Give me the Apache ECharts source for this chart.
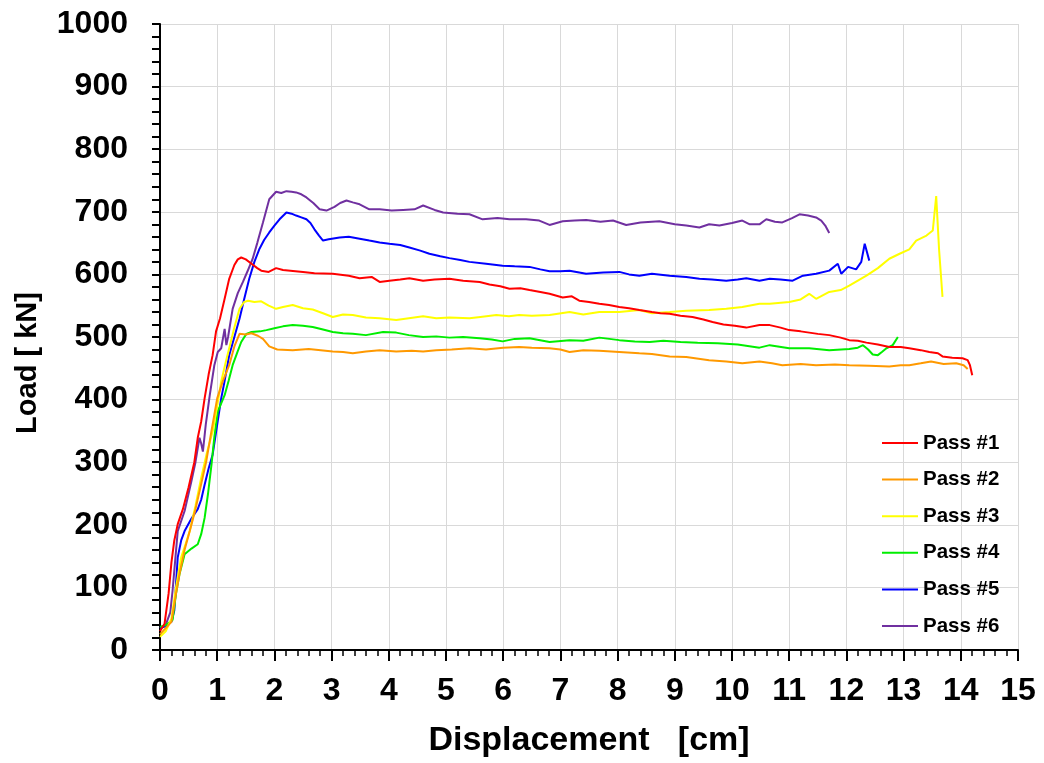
<!DOCTYPE html>
<html><head><meta charset="utf-8">
<script src="https://cdn.jsdelivr.net/npm/echarts@6/dist/echarts.min.js"></script>
<style>html,body{margin:0;padding:0;background:#fff}#c{width:1044px;height:763px}</style>
</head><body><div id="c"></div>
<script>
const seriesNames = ['Pass #1','Pass #2','Pass #3','Pass #4','Pass #5','Pass #6'];
const seriesColors = ['#ff0000','#ff9900','#ffff00','#00ee00','#0000ff','#7030a0'];

const pass1X = [0,0.08,0.15,0.2,0.25,0.31,0.4,0.5,0.6,0.66,0.72,0.78,0.85,0.92,0.98,1.05,1.13,1.21,1.3,1.36,1.42,1.5,1.6,1.7,1.77,1.9,2.03,2.15,2.28,2.5,2.7,3.02,3.3,3.49,3.7,3.84,4.01,4.2,4.36,4.6,4.8,5.06,5.3,5.59,5.76,5.95,6.11,6.3,6.46,6.65,6.81,7.04,7.2,7.33,7.5,7.68,7.85,8.03,8.2,8.38,8.6,8.75,8.91,9.1,9.31,9.5,9.66,9.85,10.05,10.25,10.48,10.66,10.85,11.0,11.2,11.35,11.5,11.7,11.9,12.05,12.2,12.35,12.55,12.75,12.95,13.1,13.3,13.45,13.6,13.68,13.85,14.03,14.12,14.16,14.2];
const pass1Y = [30,42,90,140,175,201,225,260,300,339,365,402,440,471,509,530,561,593,615,624,627,624,617,610,606,604,610,607,606,604,602,601,598,594,596,588,590,592,594,590,592,593,590,588,584,581,577,578,575,572,569,563,565,558,556,553,551,548,546,543,540,538,537,534,532,528,524,520,518,515,519,519,515,511,509,507,505,503,499,495,494,491,488,484,484,482,479,476,474,469,467,466,463,455,439];

const pass2X = [0,0.1,0.2,0.28,0.34,0.43,0.52,0.62,0.72,0.81,0.9,1.0,1.1,1.21,1.3,1.39,1.5,1.6,1.71,1.8,1.91,2.05,2.32,2.6,3.02,3.2,3.37,3.6,3.84,4.13,4.4,4.6,4.83,5.1,5.41,5.7,6.0,6.28,6.5,6.81,7.0,7.16,7.4,7.68,8.03,8.38,8.6,8.91,9.2,9.6,9.9,10.18,10.48,10.7,10.88,11.2,11.47,11.8,12.05,12.4,12.75,12.95,13.1,13.3,13.48,13.7,13.92,14.05,14.12];
const pass2Y = [25,35,45,90,121,160,190,225,265,302,350,402,430,455,485,505,504,506,502,497,485,480,479,481,477,476,474,477,479,477,478,477,479,480,482,480,483,484,483,482,480,476,479,478,476,474,473,469,468,463,461,458,461,458,455,457,455,456,455,454,453,455,455,458,461,457,458,455,449];

const pass3X = [0,0.1,0.2,0.28,0.37,0.45,0.52,0.62,0.72,0.82,0.92,1.0,1.07,1.15,1.21,1.3,1.39,1.47,1.54,1.65,1.77,1.9,2.03,2.15,2.32,2.5,2.67,2.85,3.02,3.2,3.37,3.6,3.84,4.13,4.35,4.6,4.83,5.06,5.41,5.6,5.88,6.1,6.28,6.5,6.81,7.16,7.4,7.68,8.03,8.38,8.6,8.91,9.2,9.6,9.9,10.18,10.48,10.66,11.0,11.2,11.35,11.47,11.7,11.9,12.05,12.2,12.35,12.55,12.75,12.93,13.1,13.22,13.4,13.51,13.57,13.62,13.68];
const pass3Y = [21,30,50,100,148,170,190,230,275,315,349,390,429,460,482,515,545,556,558,556,557,550,545,548,551,546,544,538,532,536,535,531,530,527,530,533,530,531,530,532,535,533,535,534,535,540,536,540,540,543,538,540,542,543,545,548,553,553,556,560,569,561,572,575,582,590,598,610,625,633,640,654,662,670,725,640,564];

const pass4X = [0,0.1,0.22,0.28,0.34,0.43,0.55,0.66,0.72,0.78,0.84,0.9,0.95,1.01,1.13,1.2,1.27,1.35,1.42,1.51,1.6,1.75,1.86,2.0,2.15,2.32,2.5,2.67,2.85,3.02,3.2,3.37,3.6,3.9,4.13,4.35,4.6,4.83,5.06,5.3,5.59,5.8,5.99,6.2,6.46,6.81,7.16,7.4,7.68,8.03,8.3,8.56,8.8,9.1,9.4,9.75,10.1,10.48,10.66,11.0,11.35,11.7,12.05,12.2,12.29,12.38,12.46,12.55,12.62,12.7,12.81,12.9];
const pass4Y = [37,40,48,90,121,153,162,169,185,211,250,296,340,381,407,430,455,475,492,505,508,509,511,514,517,519,518,516,512,508,506,505,503,508,507,503,500,501,499,500,498,496,493,497,498,492,495,494,499,495,493,492,494,492,491,490,488,483,487,482,482,479,481,483,487,480,472,471,476,482,487,500];

const pass5X = [0,0.1,0.2,0.25,0.31,0.37,0.43,0.55,0.66,0.72,0.78,0.85,0.92,1.0,1.07,1.13,1.21,1.3,1.39,1.47,1.56,1.65,1.74,1.82,1.91,2.0,2.09,2.21,2.3,2.38,2.47,2.56,2.63,2.7,2.78,2.85,2.95,3.14,3.3,3.49,3.66,3.84,4.01,4.2,4.36,4.55,4.71,4.9,5.06,5.25,5.41,5.7,5.99,6.2,6.46,6.65,6.81,7.0,7.16,7.45,7.75,8.03,8.2,8.38,8.6,8.91,9.2,9.43,9.65,9.9,10.1,10.25,10.48,10.66,10.85,11.06,11.24,11.47,11.7,11.85,11.91,12.03,12.17,12.26,12.32,12.4];
const pass5Y = [35,38,45,63,148,175,190,210,225,240,264,290,312,360,402,430,471,500,529,560,593,620,641,655,667,678,688,699,697,694,691,688,682,672,662,654,656,659,660,657,654,651,649,647,643,638,633,629,626,623,620,617,614,613,612,608,605,605,606,601,603,604,600,598,601,598,596,593,592,590,592,594,590,593,592,590,598,601,606,617,601,612,608,620,649,622];

const pass6X = [0,0.1,0.18,0.22,0.31,0.43,0.55,0.62,0.69,0.72,0.75,0.8,0.87,0.95,1.01,1.07,1.13,1.16,1.19,1.27,1.36,1.45,1.53,1.62,1.7,1.8,1.91,2.03,2.12,2.21,2.3,2.38,2.47,2.56,2.68,2.79,2.91,3.05,3.15,3.26,3.37,3.49,3.66,3.84,4.05,4.25,4.45,4.6,4.8,4.95,5.2,5.41,5.64,5.9,6.11,6.4,6.63,6.81,7.04,7.25,7.45,7.7,7.92,8.15,8.4,8.73,9.0,9.2,9.43,9.6,9.78,10.0,10.18,10.31,10.48,10.6,10.75,10.88,11.05,11.18,11.33,11.47,11.56,11.63,11.7];
const pass6Y = [35,40,60,95,190,222,270,300,339,330,317,360,407,455,476,482,513,487,500,545,570,588,605,625,650,683,720,732,730,733,732,731,728,723,714,704,702,708,714,718,715,712,704,704,702,703,704,710,703,699,697,696,688,690,688,688,686,679,685,686,687,684,686,679,683,685,680,678,675,680,678,682,686,680,680,688,684,683,690,696,694,691,686,678,666];

const xTickLabels = ['0','1','2','3','4','5','6','7','8','9','10','11','12','13','14','15'];
const yTickLabels = ['0','100','200','300','400','500','600','700','800','900','1000'];
const xTitle = 'Displacement   [cm]';
const yTitle = 'Load [ kN]';

const allX = [pass1X,pass2X,pass3X,pass4X,pass5X,pass6X];
const allY = [pass1Y,pass2Y,pass3Y,pass4Y,pass5Y,pass6Y];
const FONT = 'Liberation Sans, Arial, sans-serif';

const series = seriesNames.map((n,i)=>({
  name:n, type:'line', showSymbol:false, symbol:'none',
  data: allX[i].map((x,j)=>[x, allY[i][j]]),
  lineStyle:{color:seriesColors[i], width:2},
  itemStyle:{color:seriesColors[i]},
  z: 10-i
}));

const chart = echarts.init(document.getElementById('c'), null, {renderer:'canvas'});
chart.setOption({
  animation:false,
  backgroundColor:'#fff',
  grid:{left:160, top:24, right:26, bottom:110, containLabel:false},
  legend:{
    orient:'vertical', left:877, top:426,
    icon:'rect', itemWidth:36, itemHeight:2, itemGap:12.6,
    textStyle:{fontFamily:FONT, fontWeight:'bold', fontSize:20.5, color:'#000', lineHeight:24},
    data: seriesNames
  },
  graphic:[{
    type:'text', x:28, y:363, rotation:Math.PI/2,
    style:{text:yTitle, fontFamily:FONT, fontWeight:'bold', fontSize:29, fill:'#000',
      textAlign:'center', textVerticalAlign:'middle'}
  }],
  xAxis:{
    type:'value', min:0, max:15, interval:1,
    name:xTitle, nameLocation:'middle', nameGap:74,
    nameTextStyle:{fontFamily:FONT, fontWeight:'bold', fontSize:34, color:'#000'},
    axisLine:{show:true, onZero:false, lineStyle:{color:'#000', width:2}},
    axisTick:{show:true, inside:false, length:11, lineStyle:{color:'#000', width:2}},
    minorTick:{show:true, splitNumber:5, length:6, lineStyle:{color:'#000', width:1.5}},
    axisLabel:{margin:25, fontFamily:FONT, fontWeight:'bold', fontSize:32, color:'#000',
      formatter:(v)=>xTickLabels[Math.round(v)]},
    splitLine:{show:true, lineStyle:{color:'#d9d9d9', width:1}}
  },
  yAxis:{
    type:'value', min:0, max:1000, interval:100,
    axisLine:{show:true, lineStyle:{color:'#000', width:2}},
    axisTick:{show:true, inside:false, length:8, lineStyle:{color:'#000', width:2}},
    minorTick:{show:true, splitNumber:5, length:8, lineStyle:{color:'#000', width:2}},
    axisLabel:{margin:32, fontFamily:FONT, fontWeight:'bold', fontSize:32, color:'#000',
      formatter:(v)=>yTickLabels[Math.round(v/100)]},
    splitLine:{show:true, lineStyle:{color:'#d9d9d9', width:1}}
  },
  series: series
});
</script></body></html>
